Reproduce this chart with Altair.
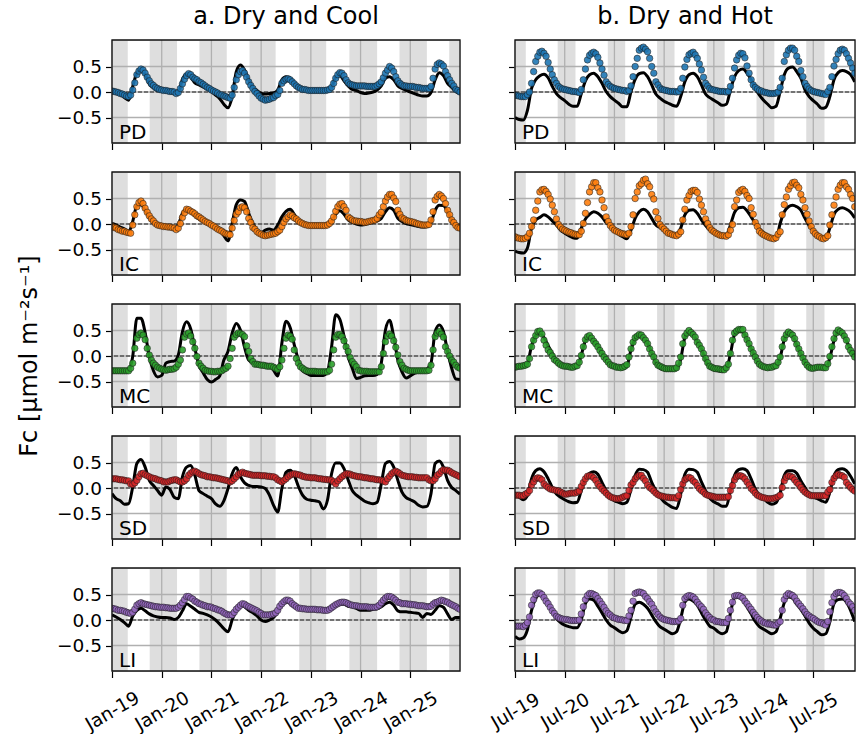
import altair as alt
import pandas as pd

FONT = "DejaVu Sans"

# ---------------- data ----------------
# column a: months since Jan-2019 ; column b: months since Jul-2019
# observations (dots) are half-monthly, model lines are monthly
a_PD_obs = [0.02, 0.01, 0.00, -0.01, -0.03, -0.04, -0.06, -0.08, -0.09, -0.06, 0.04, 0.18,
            0.34, 0.41, 0.45, 0.43, 0.37, 0.29, 0.22, 0.16, 0.13, 0.09, 0.07, 0.05,
            0.04, 0.03, 0.03, 0.02, 0.01, 0.01, 0.00, -0.03, -0.01, 0.07, 0.16, 0.25,
            0.32, 0.36, 0.34, 0.29, 0.26, 0.24, 0.20, 0.18, 0.15, 0.12, 0.09, 0.07,
            0.04, 0.02, 0.00, -0.02, -0.05, -0.06, -0.08, -0.09, -0.11, -0.12, -0.06, 0.09,
            0.24, 0.34, 0.40, 0.42, 0.37, 0.29, 0.20, 0.13, 0.07, 0.01, -0.03, -0.08,
            -0.12, -0.14, -0.16, -0.15, -0.14, -0.12, -0.11, -0.07, -0.05, 0.03, 0.17, 0.22,
            0.25, 0.26, 0.24, 0.20, 0.16, 0.12, 0.09, 0.07, 0.05, 0.05, 0.04, 0.03,
            0.03, 0.03, 0.03, 0.03, 0.03, 0.03, 0.03, 0.03, 0.04, 0.05, 0.09, 0.17,
            0.27, 0.34, 0.38, 0.37, 0.32, 0.24, 0.18, 0.15, 0.14, 0.13, 0.12, 0.12,
            0.12, 0.12, 0.12, 0.11, 0.11, 0.11, 0.11, 0.11, 0.13, 0.16, 0.20, 0.28,
            0.37, 0.43, 0.50, 0.47, 0.40, 0.30, 0.22, 0.17, 0.14, 0.12, 0.12, 0.11,
            0.11, 0.11, 0.10, 0.09, 0.09, 0.08, 0.07, 0.07, 0.07, 0.07, 0.11, 0.27,
            0.45, 0.54, 0.57, 0.55, 0.51, 0.40, 0.32, 0.24, 0.17, 0.12, 0.05, 0.03,
            0.00]
a_PD_mod = [0.01, -0.01, -0.04, -0.11, -0.16, 0.11, 0.37, 0.43, 0.34, 0.16, 0.08, 0.03,
            0.03, 0.02, 0.01, 0.00, -0.03, 0.25, 0.35, 0.29, 0.18, 0.14, 0.10, 0.06,
            0.01, -0.06, -0.13, -0.24, -0.31, -0.09, 0.40, 0.53, 0.43, 0.24, 0.09, 0.03,
            -0.03, -0.04, -0.03, -0.02, 0.04, 0.24, 0.30, 0.27, 0.16, 0.07, 0.04, 0.03,
            0.03, 0.03, 0.03, 0.03, 0.04, 0.09, 0.29, 0.32, 0.22, 0.12, 0.05, 0.03,
            -0.01, -0.03, -0.02, 0.00, 0.04, 0.12, 0.27, 0.30, 0.24, 0.12, 0.07, 0.03,
            0.00, -0.03, -0.06, -0.08, -0.08, -0.01, 0.24, 0.38, 0.32, 0.17, 0.09, 0.01,
            -0.03]
a_IC_obs = [-0.05, -0.07, -0.08, -0.11, -0.12, -0.14, -0.14, -0.16, -0.17, -0.18, -0.02, 0.18,
            0.34, 0.42, 0.45, 0.40, 0.31, 0.23, 0.16, 0.10, 0.06, 0.01, -0.02, -0.03,
            -0.04, -0.05, -0.05, -0.06, -0.06, -0.07, -0.08, -0.11, -0.08, 0.01, 0.13, 0.22,
            0.29, 0.28, 0.25, 0.23, 0.20, 0.16, 0.14, 0.11, 0.08, 0.05, 0.03, 0.01,
            -0.02, -0.04, -0.07, -0.10, -0.12, -0.14, -0.17, -0.19, -0.20, -0.21, -0.08, 0.07,
            0.19, 0.24, 0.32, 0.34, 0.32, 0.24, 0.11, 0.03, -0.07, -0.10, -0.15, -0.18,
            -0.20, -0.22, -0.23, -0.22, -0.21, -0.20, -0.19, -0.18, -0.15, -0.12, -0.05, 0.03,
            0.10, 0.14, 0.18, 0.16, 0.12, 0.10, 0.06, 0.03, 0.01, -0.01, -0.02, -0.03,
            -0.03, -0.03, -0.03, -0.03, -0.03, -0.03, -0.03, -0.03, -0.02, 0.01, 0.06, 0.14,
            0.25, 0.34, 0.39, 0.40, 0.34, 0.27, 0.14, 0.11, 0.08, 0.06, 0.06, 0.05,
            0.05, 0.04, 0.03, 0.04, 0.05, 0.06, 0.07, 0.08, 0.11, 0.18, 0.23, 0.34,
            0.45, 0.53, 0.58, 0.58, 0.51, 0.44, 0.27, 0.19, 0.12, 0.10, 0.07, 0.06,
            0.05, 0.04, 0.03, 0.01, 0.00, -0.01, -0.02, -0.02, -0.02, -0.01, 0.08, 0.24,
            0.47, 0.54, 0.58, 0.55, 0.50, 0.40, 0.27, 0.18, 0.08, 0.03, -0.03, -0.07,
            -0.08]
a_IC_mod = [0.01, -0.02, -0.06, -0.10, -0.16, 0.05, 0.36, 0.38, 0.27, 0.12, 0.03, -0.03,
            -0.05, -0.05, -0.06, -0.08, -0.01, 0.21, 0.29, 0.24, 0.16, 0.10, 0.05, 0.00,
            -0.03, -0.07, -0.13, -0.23, -0.33, 0.01, 0.38, 0.47, 0.44, 0.21, 0.01, -0.12,
            -0.17, -0.12, -0.10, -0.12, -0.02, 0.14, 0.25, 0.29, 0.19, 0.05, -0.01, -0.02,
            -0.02, -0.02, -0.02, -0.02, -0.02, 0.05, 0.19, 0.26, 0.19, 0.08, 0.03, 0.00,
            -0.02, -0.01, 0.01, 0.03, 0.06, 0.11, 0.24, 0.32, 0.27, 0.11, 0.05, 0.01,
            -0.01, -0.03, -0.05, -0.06, -0.05, 0.03, 0.27, 0.37, 0.36, 0.24, 0.08, -0.02,
            -0.05]
a_MC_obs = [-0.29, -0.29, -0.29, -0.29, -0.29, -0.29, -0.29, -0.29, -0.29, -0.24, -0.14, 0.15,
            0.35, 0.42, 0.45, 0.41, 0.32, 0.15, 0.02, -0.08, -0.14, -0.18, -0.22, -0.24,
            -0.26, -0.27, -0.28, -0.27, -0.26, -0.26, -0.25, -0.22, -0.16, -0.08, 0.12, 0.37,
            0.43, 0.45, 0.39, 0.28, 0.15, -0.01, -0.14, -0.20, -0.24, -0.28, -0.29, -0.30,
            -0.30, -0.31, -0.31, -0.30, -0.30, -0.29, -0.26, -0.24, -0.20, -0.05, 0.15, 0.37,
            0.42, 0.45, 0.44, 0.42, 0.38, 0.20, 0.09, -0.05, -0.11, -0.16, -0.16, -0.17,
            -0.18, -0.18, -0.19, -0.20, -0.20, -0.20, -0.22, -0.24, -0.26, -0.21, -0.08, 0.15,
            0.35, 0.41, 0.39, 0.33, 0.12, -0.05, -0.14, -0.21, -0.24, -0.27, -0.29, -0.30,
            -0.30, -0.30, -0.30, -0.31, -0.31, -0.31, -0.31, -0.31, -0.31, -0.28, -0.16, 0.12,
            0.37, 0.42, 0.42, 0.38, 0.30, 0.18, 0.09, -0.03, -0.11, -0.16, -0.21, -0.28,
            -0.29, -0.30, -0.30, -0.30, -0.31, -0.31, -0.31, -0.31, -0.31, -0.31, -0.21, 0.05,
            0.28, 0.39, 0.43, 0.39, 0.30, 0.17, 0.02, -0.11, -0.18, -0.24, -0.26, -0.28,
            -0.29, -0.29, -0.29, -0.29, -0.29, -0.29, -0.29, -0.29, -0.29, -0.28, -0.18, 0.12,
            0.38, 0.45, 0.48, 0.43, 0.37, 0.18, 0.09, 0.00, -0.08, -0.12, -0.18, -0.22,
            -0.24]
a_MC_mod = [-0.29, -0.29, -0.28, -0.28, -0.28, -0.01, 0.74, 0.74, 0.46, -0.01, -0.29, -0.41,
            -0.38, -0.14, -0.11, -0.10, 0.02, 0.48, 0.67, 0.53, 0.15, -0.18, -0.33, -0.46,
            -0.51, -0.46, -0.39, -0.08, 0.09, 0.45, 0.64, 0.51, 0.17, -0.08, -0.13, -0.14,
            -0.16, -0.17, -0.19, -0.28, -0.39, 0.25, 0.68, 0.56, 0.22, -0.08, -0.29, -0.34,
            -0.38, -0.38, -0.38, -0.38, -0.31, 0.18, 0.81, 0.72, 0.39, -0.01, -0.24, -0.44,
            -0.42, -0.39, -0.38, -0.38, -0.36, -0.14, 0.51, 0.70, 0.38, -0.08, -0.31, -0.43,
            -0.39, -0.34, -0.32, -0.30, -0.26, -0.14, 0.48, 0.61, 0.48, 0.09, -0.24, -0.45,
            -0.46]
a_SD_obs = [0.18, 0.18, 0.18, 0.17, 0.16, 0.16, 0.15, 0.14, 0.14, 0.08, 0.07, 0.10,
            0.15, 0.22, 0.28, 0.29, 0.26, 0.24, 0.22, 0.20, 0.19, 0.18, 0.16, 0.15,
            0.14, 0.12, 0.12, 0.12, 0.14, 0.15, 0.16, 0.16, 0.14, 0.12, 0.12, 0.14,
            0.18, 0.25, 0.29, 0.32, 0.33, 0.31, 0.28, 0.26, 0.25, 0.24, 0.22, 0.22,
            0.21, 0.20, 0.20, 0.19, 0.18, 0.17, 0.16, 0.15, 0.14, 0.12, 0.14, 0.18,
            0.22, 0.27, 0.29, 0.31, 0.29, 0.28, 0.27, 0.26, 0.25, 0.25, 0.25, 0.25,
            0.24, 0.24, 0.24, 0.23, 0.23, 0.22, 0.22, 0.20, 0.16, 0.14, 0.12, 0.15,
            0.18, 0.22, 0.25, 0.27, 0.28, 0.27, 0.26, 0.25, 0.23, 0.22, 0.21, 0.21,
            0.20, 0.20, 0.20, 0.19, 0.18, 0.18, 0.17, 0.17, 0.16, 0.16, 0.15, 0.12,
            0.08, 0.14, 0.18, 0.22, 0.25, 0.28, 0.28, 0.27, 0.25, 0.24, 0.23, 0.22,
            0.22, 0.21, 0.20, 0.20, 0.19, 0.18, 0.18, 0.17, 0.16, 0.16, 0.15, 0.14,
            0.12, 0.18, 0.23, 0.28, 0.31, 0.33, 0.31, 0.28, 0.25, 0.24, 0.23, 0.22,
            0.22, 0.22, 0.21, 0.21, 0.20, 0.20, 0.20, 0.20, 0.20, 0.16, 0.14, 0.14,
            0.18, 0.25, 0.28, 0.33, 0.36, 0.35, 0.35, 0.33, 0.30, 0.28, 0.26, 0.24,
            0.22]
a_SD_mod = [-0.11, -0.21, -0.25, -0.32, -0.31, 0.02, 0.48, 0.56, 0.41, 0.15, 0.05, -0.05,
            -0.14, 0.02, -0.03, -0.18, -0.21, 0.22, 0.41, 0.44, 0.25, -0.05, -0.11, -0.16,
            -0.21, -0.31, -0.36, -0.25, -0.01, 0.28, 0.40, 0.22, 0.10, 0.05, 0.03, 0.03,
            0.02, -0.01, -0.14, -0.34, -0.47, -0.01, 0.31, 0.35, 0.25, 0.03, -0.14, -0.22,
            -0.24, -0.25, -0.27, -0.41, -0.24, 0.28, 0.49, 0.49, 0.38, 0.16, -0.05, -0.14,
            -0.20, -0.26, -0.29, -0.31, -0.28, 0.08, 0.48, 0.52, 0.41, 0.15, -0.08, -0.19,
            -0.23, -0.27, -0.34, -0.37, -0.36, -0.11, 0.48, 0.53, 0.41, 0.15, 0.01, -0.05,
            -0.12]
a_LI_obs = [0.23, 0.22, 0.21, 0.19, 0.19, 0.18, 0.17, 0.15, 0.14, 0.13, 0.15, 0.21,
            0.29, 0.32, 0.34, 0.32, 0.31, 0.30, 0.29, 0.28, 0.27, 0.26, 0.26, 0.25,
            0.25, 0.25, 0.24, 0.24, 0.23, 0.23, 0.23, 0.23, 0.25, 0.29, 0.34, 0.40,
            0.46, 0.46, 0.43, 0.41, 0.37, 0.35, 0.32, 0.31, 0.29, 0.28, 0.26, 0.26,
            0.25, 0.23, 0.22, 0.20, 0.19, 0.17, 0.14, 0.12, 0.10, 0.10, 0.10, 0.15,
            0.21, 0.25, 0.29, 0.32, 0.31, 0.28, 0.26, 0.24, 0.22, 0.20, 0.18, 0.15,
            0.13, 0.10, 0.10, 0.10, 0.10, 0.11, 0.12, 0.14, 0.19, 0.27, 0.32, 0.36,
            0.39, 0.39, 0.37, 0.32, 0.29, 0.26, 0.23, 0.23, 0.22, 0.22, 0.21, 0.21,
            0.21, 0.21, 0.21, 0.20, 0.20, 0.20, 0.19, 0.19, 0.19, 0.21, 0.24, 0.27,
            0.30, 0.32, 0.34, 0.35, 0.35, 0.34, 0.32, 0.30, 0.29, 0.28, 0.28, 0.27,
            0.26, 0.26, 0.26, 0.26, 0.25, 0.25, 0.25, 0.25, 0.26, 0.29, 0.34, 0.39,
            0.43, 0.46, 0.46, 0.45, 0.42, 0.39, 0.35, 0.34, 0.32, 0.32, 0.32, 0.31,
            0.31, 0.30, 0.30, 0.29, 0.28, 0.28, 0.28, 0.27, 0.26, 0.26, 0.27, 0.31,
            0.34, 0.35, 0.37, 0.39, 0.38, 0.36, 0.35, 0.32, 0.30, 0.28, 0.26, 0.23,
            0.21]
a_LI_mod = [0.10, 0.06, 0.01, -0.05, -0.12, 0.08, 0.19, 0.23, 0.18, 0.12, 0.08, 0.06,
            0.05, 0.05, 0.04, 0.01, 0.05, 0.18, 0.32, 0.27, 0.21, 0.15, 0.13, 0.10,
            0.06, 0.00, -0.08, -0.17, -0.23, 0.00, 0.19, 0.30, 0.26, 0.19, 0.14, 0.08,
            0.00, -0.03, 0.00, 0.05, 0.16, 0.29, 0.37, 0.32, 0.26, 0.23, 0.22, 0.21,
            0.21, 0.21, 0.21, 0.21, 0.21, 0.22, 0.27, 0.31, 0.31, 0.27, 0.26, 0.23,
            0.19, 0.19, 0.19, 0.21, 0.22, 0.26, 0.32, 0.35, 0.29, 0.18, 0.16, 0.16,
            0.15, 0.14, 0.13, 0.05, 0.13, 0.11, 0.19, 0.28, 0.25, 0.12, 0.01, 0.05,
            0.05]

b_PD_obs = [-0.06, -0.07, -0.08, -0.09, -0.09, -0.09, -0.05, 0.00, 0.17, 0.40, 0.60, 0.70,
            0.78, 0.80, 0.76, 0.70, 0.58, 0.45, 0.34, 0.24, 0.17, 0.11, 0.08, 0.06,
            0.05, 0.04, 0.03, 0.02, 0.01, 0.01, 0.00, -0.01, 0.05, 0.24, 0.45, 0.63,
            0.72, 0.76, 0.78, 0.75, 0.68, 0.57, 0.45, 0.33, 0.20, 0.15, 0.11, 0.09,
            0.07, 0.06, 0.05, 0.04, 0.03, 0.03, 0.01, 0.03, 0.12, 0.30, 0.50, 0.66,
            0.82, 0.86, 0.88, 0.84, 0.79, 0.66, 0.50, 0.37, 0.20, 0.14, 0.08, 0.05,
            0.04, 0.03, 0.02, 0.01, 0.01, 0.01, 0.00, 0.01, 0.07, 0.27, 0.49, 0.64,
            0.73, 0.76, 0.78, 0.73, 0.66, 0.55, 0.43, 0.29, 0.17, 0.12, 0.07, 0.05,
            0.04, 0.03, 0.02, 0.01, 0.01, 0.01, 0.00, 0.01, 0.11, 0.27, 0.47, 0.63,
            0.72, 0.76, 0.75, 0.67, 0.51, 0.37, 0.24, 0.14, 0.09, 0.06, 0.03, 0.02,
            0.00, -0.01, -0.02, -0.03, -0.03, -0.03, -0.02, 0.00, 0.09, 0.27, 0.60, 0.73,
            0.82, 0.86, 0.86, 0.82, 0.70, 0.60, 0.42, 0.30, 0.17, 0.11, 0.06, 0.03,
            0.01, 0.00, -0.01, -0.02, -0.03, -0.04, -0.05, 0.01, 0.09, 0.30, 0.51, 0.64,
            0.75, 0.82, 0.84, 0.82, 0.75, 0.66, 0.57, 0.47, 0.37]
b_PD_mod = [-0.50, -0.54, -0.55, -0.36, 0.07, 0.24, 0.32, 0.35, 0.28, 0.11, -0.03, -0.11,
            -0.17, -0.24, -0.28, -0.28, -0.03, 0.22, 0.34, 0.37, 0.30, 0.17, 0.01, -0.09,
            -0.16, -0.22, -0.29, -0.29, 0.01, 0.25, 0.36, 0.38, 0.30, 0.14, -0.04, -0.12,
            -0.18, -0.22, -0.26, -0.28, -0.09, 0.20, 0.34, 0.37, 0.30, 0.14, -0.04, -0.11,
            -0.16, -0.21, -0.26, -0.24, 0.04, 0.30, 0.42, 0.45, 0.37, 0.24, 0.07, -0.06,
            -0.16, -0.24, -0.31, -0.28, 0.01, 0.34, 0.47, 0.49, 0.40, 0.27, 0.04, -0.09,
            -0.17, -0.24, -0.32, -0.30, -0.09, 0.24, 0.38, 0.42, 0.40, 0.34, 0.20]
b_IC_obs = [-0.25, -0.27, -0.28, -0.29, -0.29, -0.28, -0.25, -0.18, -0.05, 0.08, 0.27, 0.45,
            0.63, 0.67, 0.68, 0.64, 0.58, 0.49, 0.37, 0.24, 0.10, -0.01, -0.06, -0.10,
            -0.12, -0.14, -0.16, -0.17, -0.19, -0.20, -0.21, -0.21, -0.14, 0.01, 0.21, 0.42,
            0.63, 0.73, 0.81, 0.81, 0.71, 0.63, 0.47, 0.32, 0.14, 0.05, -0.03, -0.08,
            -0.12, -0.14, -0.16, -0.18, -0.19, -0.20, -0.21, -0.18, -0.05, 0.18, 0.50, 0.63,
            0.75, 0.79, 0.86, 0.88, 0.79, 0.73, 0.58, 0.49, 0.24, 0.11, -0.01, -0.06,
            -0.10, -0.14, -0.18, -0.19, -0.21, -0.22, -0.23, -0.20, -0.15, 0.08, 0.29, 0.47,
            0.56, 0.64, 0.66, 0.66, 0.62, 0.49, 0.37, 0.24, 0.10, 0.01, -0.07, -0.12,
            -0.15, -0.18, -0.20, -0.22, -0.23, -0.23, -0.24, -0.21, -0.12, -0.01, 0.34, 0.47,
            0.62, 0.66, 0.68, 0.64, 0.56, 0.50, 0.32, 0.19, 0.03, -0.05, -0.14, -0.18,
            -0.21, -0.23, -0.25, -0.27, -0.28, -0.29, -0.27, -0.20, -0.15, 0.18, 0.38, 0.53,
            0.68, 0.75, 0.81, 0.82, 0.76, 0.71, 0.58, 0.47, 0.32, 0.19, 0.06, -0.05,
            -0.14, -0.19, -0.23, -0.25, -0.28, -0.29, -0.27, -0.23, -0.02, 0.18, 0.37, 0.53,
            0.68, 0.76, 0.81, 0.81, 0.73, 0.68, 0.58, 0.50, 0.34]
b_IC_mod = [-0.53, -0.56, -0.57, -0.47, -0.08, 0.08, 0.13, 0.18, 0.14, 0.06, -0.02, -0.12,
            -0.18, -0.23, -0.27, -0.28, -0.08, 0.10, 0.19, 0.24, 0.21, 0.14, 0.03, -0.03,
            -0.14, -0.20, -0.25, -0.29, -0.12, 0.11, 0.24, 0.29, 0.24, 0.11, -0.02, -0.07,
            -0.12, -0.15, -0.18, -0.20, -0.08, 0.18, 0.27, 0.28, 0.21, 0.08, -0.03, -0.12,
            -0.17, -0.21, -0.25, -0.23, -0.02, 0.23, 0.32, 0.33, 0.26, 0.14, 0.01, -0.10,
            -0.17, -0.23, -0.29, -0.29, 0.01, 0.24, 0.34, 0.37, 0.34, 0.27, 0.11, -0.03,
            -0.12, -0.20, -0.25, -0.27, -0.08, 0.19, 0.29, 0.32, 0.29, 0.23, 0.12]
b_MC_obs = [-0.22, -0.21, -0.20, -0.20, -0.19, -0.18, -0.16, -0.05, 0.18, 0.31, 0.40, 0.48,
            0.49, 0.43, 0.31, 0.21, 0.12, 0.07, 0.00, -0.07, -0.10, -0.14, -0.17, -0.19,
            -0.20, -0.20, -0.21, -0.22, -0.22, -0.20, -0.19, -0.12, 0.01, 0.18, 0.32, 0.38,
            0.40, 0.35, 0.29, 0.24, 0.18, 0.11, 0.05, -0.02, -0.07, -0.12, -0.17, -0.19,
            -0.20, -0.22, -0.22, -0.23, -0.22, -0.20, -0.17, -0.02, 0.14, 0.27, 0.36, 0.39,
            0.42, 0.41, 0.36, 0.31, 0.24, 0.14, 0.05, -0.02, -0.12, -0.18, -0.20, -0.22,
            -0.24, -0.25, -0.25, -0.25, -0.25, -0.25, -0.23, -0.14, -0.02, 0.24, 0.39, 0.45,
            0.50, 0.46, 0.42, 0.37, 0.27, 0.21, 0.14, 0.05, -0.05, -0.13, -0.20, -0.22,
            -0.24, -0.25, -0.25, -0.26, -0.27, -0.27, -0.23, -0.16, 0.05, 0.31, 0.45, 0.49,
            0.52, 0.52, 0.52, 0.41, 0.32, 0.24, 0.14, 0.06, -0.02, -0.10, -0.16, -0.19,
            -0.21, -0.22, -0.23, -0.22, -0.22, -0.20, -0.19, -0.12, -0.02, 0.18, 0.34, 0.42,
            0.47, 0.44, 0.41, 0.34, 0.23, 0.14, 0.05, -0.04, -0.12, -0.18, -0.22, -0.24,
            -0.24, -0.23, -0.22, -0.22, -0.22, -0.23, -0.23, -0.15, -0.01, 0.18, 0.34, 0.45,
            0.51, 0.48, 0.45, 0.39, 0.31, 0.18, 0.11, 0.05, -0.02]
b_MC_mod = [-0.21, -0.20, -0.19, -0.14, 0.20, 0.40, 0.44, 0.36, 0.20, 0.05, -0.10, -0.18,
            -0.21, -0.23, -0.24, -0.21, 0.02, 0.30, 0.37, 0.30, 0.20, 0.06, -0.08, -0.18,
            -0.22, -0.24, -0.25, -0.20, 0.12, 0.34, 0.40, 0.35, 0.25, 0.06, -0.14, -0.24,
            -0.27, -0.28, -0.28, -0.26, -0.06, 0.36, 0.46, 0.42, 0.28, 0.14, -0.08, -0.22,
            -0.27, -0.29, -0.30, -0.26, 0.04, 0.42, 0.48, 0.47, 0.32, 0.14, -0.03, -0.17,
            -0.24, -0.25, -0.24, -0.21, -0.03, 0.32, 0.44, 0.40, 0.22, 0.04, -0.12, -0.23,
            -0.25, -0.24, -0.24, -0.25, -0.04, 0.30, 0.46, 0.43, 0.30, 0.12, -0.02]
b_SD_obs = [-0.14, -0.14, -0.14, -0.15, -0.15, -0.12, -0.10, -0.05, 0.06, 0.12, 0.18, 0.20,
            0.19, 0.16, 0.08, 0.04, 0.01, -0.02, -0.03, -0.04, -0.05, -0.06, -0.08, -0.10,
            -0.12, -0.12, -0.11, -0.10, -0.10, -0.10, -0.08, -0.06, 0.03, 0.11, 0.18, 0.23,
            0.24, 0.23, 0.20, 0.15, 0.08, 0.03, -0.02, -0.06, -0.10, -0.14, -0.17, -0.19,
            -0.20, -0.21, -0.21, -0.20, -0.18, -0.16, -0.15, -0.05, 0.06, 0.11, 0.18, 0.22,
            0.25, 0.25, 0.19, 0.14, 0.06, 0.01, -0.02, -0.06, -0.10, -0.13, -0.15, -0.16,
            -0.17, -0.18, -0.18, -0.19, -0.19, -0.19, -0.20, -0.15, -0.03, 0.08, 0.16, 0.19,
            0.21, 0.19, 0.14, 0.11, 0.05, -0.01, -0.05, -0.08, -0.12, -0.14, -0.15, -0.16,
            -0.17, -0.18, -0.18, -0.18, -0.18, -0.18, -0.18, -0.17, -0.05, 0.05, 0.16, 0.22,
            0.24, 0.24, 0.22, 0.18, 0.12, 0.06, -0.01, -0.05, -0.10, -0.14, -0.16, -0.18,
            -0.19, -0.20, -0.21, -0.21, -0.21, -0.20, -0.19, -0.17, -0.14, 0.01, 0.14, 0.21,
            0.24, 0.23, 0.21, 0.16, 0.11, 0.07, 0.01, -0.04, -0.08, -0.11, -0.13, -0.15,
            -0.15, -0.15, -0.15, -0.15, -0.15, -0.15, -0.15, -0.08, -0.03, 0.11, 0.19, 0.24,
            0.27, 0.25, 0.24, 0.21, 0.11, 0.06, 0.01, -0.03, -0.06]
b_SD_mod = [-0.12, -0.18, -0.23, -0.15, 0.18, 0.34, 0.38, 0.32, 0.18, 0.01, -0.12, -0.18,
            -0.23, -0.27, -0.29, -0.28, -0.05, 0.19, 0.29, 0.32, 0.27, 0.11, -0.05, -0.18,
            -0.25, -0.28, -0.31, -0.28, -0.02, 0.25, 0.37, 0.36, 0.31, 0.11, -0.05, -0.18,
            -0.27, -0.33, -0.38, -0.40, -0.12, 0.27, 0.37, 0.36, 0.31, 0.12, -0.05, -0.20,
            -0.27, -0.31, -0.36, -0.36, -0.05, 0.25, 0.36, 0.38, 0.34, 0.18, -0.02, -0.15,
            -0.20, -0.28, -0.32, -0.29, -0.10, 0.25, 0.34, 0.34, 0.29, 0.14, 0.01, -0.12,
            -0.18, -0.21, -0.25, -0.28, -0.08, 0.24, 0.36, 0.38, 0.34, 0.23, 0.08]
b_LI_obs = [-0.12, -0.12, -0.12, -0.12, -0.13, -0.10, -0.05, 0.06, 0.29, 0.40, 0.50, 0.53,
            0.53, 0.50, 0.44, 0.37, 0.32, 0.25, 0.18, 0.13, 0.07, 0.05, 0.03, 0.02,
            0.01, 0.01, 0.00, -0.01, -0.01, -0.01, -0.01, 0.00, 0.12, 0.26, 0.40, 0.48,
            0.52, 0.52, 0.50, 0.48, 0.42, 0.37, 0.31, 0.25, 0.18, 0.13, 0.10, 0.06,
            0.04, 0.03, 0.01, 0.01, 0.00, -0.01, -0.01, 0.08, 0.19, 0.37, 0.52, 0.54,
            0.55, 0.54, 0.52, 0.46, 0.42, 0.36, 0.31, 0.23, 0.16, 0.11, 0.06, 0.03,
            0.01, 0.00, -0.01, -0.02, -0.03, -0.03, -0.03, -0.02, 0.03, 0.29, 0.42, 0.46,
            0.48, 0.47, 0.45, 0.41, 0.35, 0.30, 0.26, 0.21, 0.14, 0.09, 0.05, 0.01,
            0.00, -0.03, -0.03, -0.04, -0.05, -0.05, -0.05, 0.03, 0.19, 0.35, 0.47, 0.48,
            0.48, 0.46, 0.43, 0.37, 0.32, 0.26, 0.21, 0.15, 0.10, 0.05, 0.01, -0.02,
            -0.05, -0.06, -0.08, -0.08, -0.09, -0.10, -0.10, -0.06, -0.03, 0.19, 0.40, 0.48,
            0.52, 0.50, 0.48, 0.44, 0.37, 0.32, 0.27, 0.22, 0.16, 0.11, 0.08, 0.05,
            0.03, 0.00, -0.03, -0.05, -0.06, -0.08, -0.10, -0.03, 0.16, 0.34, 0.46, 0.52,
            0.54, 0.54, 0.52, 0.48, 0.42, 0.35, 0.31, 0.26, 0.19]
b_LI_mod = [-0.32, -0.37, -0.35, -0.19, 0.19, 0.42, 0.50, 0.44, 0.34, 0.19, 0.03, -0.05,
            -0.10, -0.13, -0.15, -0.15, 0.01, 0.32, 0.41, 0.39, 0.27, 0.14, 0.00, -0.10,
            -0.15, -0.21, -0.25, -0.21, 0.06, 0.31, 0.35, 0.31, 0.23, 0.10, -0.03, -0.13,
            -0.18, -0.23, -0.27, -0.23, 0.03, 0.35, 0.41, 0.37, 0.29, 0.14, 0.00, -0.12,
            -0.16, -0.23, -0.27, -0.23, 0.13, 0.44, 0.44, 0.40, 0.26, 0.12, -0.03, -0.13,
            -0.18, -0.23, -0.27, -0.23, 0.03, 0.34, 0.45, 0.43, 0.31, 0.21, 0.08, -0.06,
            -0.16, -0.23, -0.29, -0.27, -0.03, 0.32, 0.40, 0.41, 0.35, 0.19, -0.03]

# shaded periods (months from panel start)
a_band_start = [0, 9.1, 21.1, 33.2, 45.2, 57.3, 69.4, 81.4]
a_band_end = [3.8, 15.7, 27.7, 39.5, 51.7, 64.0, 76.0, 84.0]
b_band_start = [0, 10.3, 22.4, 34.3, 46.3, 58.3, 70.3]
b_band_end = [2.6, 14.6, 26.6, 38.5, 50.6, 62.6, 74.7]

sites = ["PD", "IC", "MC", "SD", "LI"]
colors = ["#1f77b4", "#ff7f0e", "#2ca02c", "#d62728", "#9467bd"]
titles = ["a. Dry and Cool", "b. Dry and Hot"]
x_ticks = [0, 12, 24, 36, 48, 60, 72]
y_ticks = [-0.5, 0.0, 0.5]
y_title = "Fc [\u03bcmol m\u207b\u00b2s\u207b\u00b9]"

series = {
    ("a", "PD"): (a_PD_obs, a_PD_mod), ("a", "IC"): (a_IC_obs, a_IC_mod),
    ("a", "MC"): (a_MC_obs, a_MC_mod), ("a", "SD"): (a_SD_obs, a_SD_mod),
    ("a", "LI"): (a_LI_obs, a_LI_mod),
    ("b", "PD"): (b_PD_obs, b_PD_mod), ("b", "IC"): (b_IC_obs, b_IC_mod),
    ("b", "MC"): (b_MC_obs, b_MC_mod), ("b", "SD"): (b_SD_obs, b_SD_mod),
    ("b", "LI"): (b_LI_obs, b_LI_mod),
}

# ---------------- layout / style ----------------
W_A, W_B, H = 348, 340, 103
Y_DOM = [-1.0, 1.02]
BAND = "#dedede"
GRID = "#b0b0b0"
TICK = 6.5
LBL = 18.5


def panel(col, row):
    site = sites[row]
    color = colors[row]
    obs, mod = series[(col, site)]
    obs_step = 0.5 if len(obs) > 100 else 1.0
    if col == "a":
        width, xdom, prefix = W_A, [0, 84], "Jan-"
        bs, be = a_band_start, a_band_end
    else:
        width, xdom, prefix = W_B, [0, W_B / (W_A / 84.0)], "Jul-"
        bs, be = b_band_start, b_band_end
    bottom = row == len(sites) - 1

    xs = alt.Scale(domain=xdom, nice=False, zero=False)
    ys = alt.Scale(domain=Y_DOM, nice=False, zero=False)
    xaxis = alt.Axis(values=x_ticks, labelExpr=f"'{prefix}' + (19 + datum.value / 12)",
                     labels=bottom, title=None, grid=False, domain=False,
                     tickSize=TICK, tickColor="black", tickWidth=1.2,
                     labelAngle=330, labelAlign="center", labelBaseline="middle",
                     labelPadding=33, labelFontSize=LBL, labelFont=FONT,
                     labelColor="black", labelFlush=False, labelOverlap=False)
    show_y = col == "a"
    ykw = dict(values=y_ticks,
               labelExpr="datum.value < 0 ? '\u2212' + format(-datum.value, '.1f') : format(datum.value, '.1f')",
               labels=show_y, grid=False, domain=False,
               tickSize=TICK, tickColor="black", tickWidth=1.2,
               labelFontSize=LBL, labelFont=FONT, labelColor="black", labelPadding=4)
    if show_y and row == 2:
        yaxis = alt.Axis(title=y_title, titleFont=FONT, titleFontSize=24,
                         titleFontWeight="normal", titleColor="black", titlePadding=15, **ykw)
    else:
        yaxis = alt.Axis(title=None, **ykw)

    df_obs = pd.DataFrame({"t": [i * obs_step for i in range(len(obs))], "obs": obs})
    df_mod = pd.DataFrame({"t": list(range(len(mod))), "mod": mod})
    bands = pd.DataFrame({"s": bs, "e": be})
    vgrid = pd.DataFrame({"v": x_ticks})
    hgrid = pd.DataFrame({"g": y_ticks})
    zero = pd.DataFrame({"z": [0.0]})
    one = pd.DataFrame({"lab": [site]})

    band_l = alt.Chart(bands).mark_rect(color=BAND, clip=True).encode(
        x=alt.X("s:Q", scale=xs, axis=xaxis), x2="e:Q")
    vg_l = alt.Chart(vgrid).mark_rule(color=GRID, strokeWidth=1.3).encode(
        x=alt.X("v:Q", scale=xs, axis=xaxis))
    hg_l = alt.Chart(hgrid).mark_rule(color=GRID, strokeWidth=1.3).encode(
        y=alt.Y("g:Q", scale=ys, axis=yaxis))
    z_l = alt.Chart(zero).mark_rule(color="#222222", strokeWidth=1.0, strokeDash=[4, 2]).encode(
        y=alt.Y("z:Q", scale=ys, axis=yaxis))
    line_l = alt.Chart(df_mod).mark_line(color="black", strokeWidth=3, interpolate="monotone",
                                         clip=True).encode(
        x=alt.X("t:Q", scale=xs, axis=xaxis), y=alt.Y("mod:Q", scale=ys, axis=yaxis))
    pts_l = alt.Chart(df_obs).mark_circle(color=color, size=42, opacity=0.9, stroke="#1a1a1a",
                                          strokeWidth=0.6, clip=True).encode(
        x=alt.X("t:Q", scale=xs, axis=xaxis), y=alt.Y("obs:Q", scale=ys, axis=yaxis))
    txt_l = alt.Chart(one).mark_text(align="left", baseline="alphabetic",
                                     fontSize=20, font=FONT, color="black").encode(
        text="lab:N", x=alt.value(7), y=alt.value(H - 4))
    frame_l = alt.Chart(one).mark_rect(fillOpacity=0, stroke="#111111", strokeWidth=1.3).encode(
        x=alt.value(0), x2=alt.value(width), y=alt.value(0), y2=alt.value(H))

    ch = alt.layer(band_l, vg_l, hg_l, z_l, line_l, pts_l, txt_l, frame_l).properties(
        width=width, height=H)
    if row == 0:
        ch = ch.properties(title=alt.TitleParams(titles[0 if col == "a" else 1], font=FONT,
                                                 fontSize=24, fontWeight="normal", color="black",
                                                 anchor="middle", offset=10))
    return ch


panels = []
for r in range(len(sites)):
    panels.append(panel("a", r))
    panels.append(panel("b", r))

chart = alt.concat(*panels, columns=2, spacing={"row": 29, "column": 55},
                   bounds="flush").properties(
    padding={"left": 17, "top": 4, "right": 0, "bottom": 0}
).configure_view(stroke="transparent").configure(font=FONT)

chart.save("out.html", embed_options={"renderer": "svg", "actions": False})
